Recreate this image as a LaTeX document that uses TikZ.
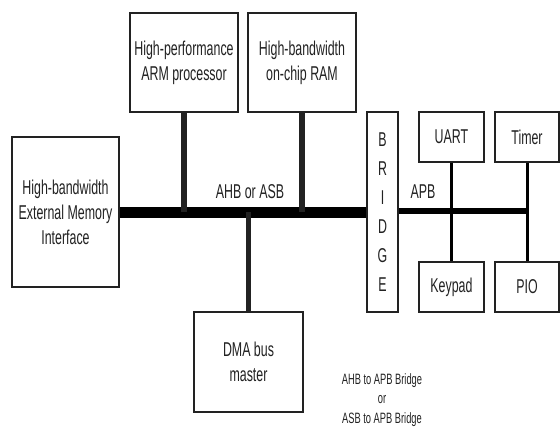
\documentclass[tikz,border=0pt]{standalone}
\usepackage{fontspec}
\setmainfont[FakeStretch=0.62]{Liberation Sans}
\definecolor{ink}{HTML}{222222}
\begin{document}
\begin{tikzpicture}[x=1pt,y=-1pt,
  blk/.style={draw=ink,line width=1.2pt,fill=white,inner sep=0pt,align=center,
    text=ink,font=\fontsize{20}{25}\selectfont},
  bigbus/.style={line width=11pt,draw=black},
  apbbus/.style={line width=6pt,draw=black},
  stubA/.style={line width=5.5pt,draw=ink},
  stubB/.style={line width=3pt,draw=black},
  lbl/.style={text=ink,font=\fontsize{20}{25}\selectfont,inner sep=0pt}]
\useasboundingbox (0,0) rectangle (560,438);
\coordinate (ahb) at (0,212.5);
\coordinate (apb) at (0,211);
\node[blk,minimum width=108pt,minimum height=99pt] (arm) at (184,62.5) {High-performance\\ARM processor};
\node[blk,minimum width=108pt,minimum height=99pt] (ram) at (302,62.5) {High-bandwidth\\on-chip RAM};
\node[blk,minimum width=107pt,minimum height=150pt] (mem) at (65.5,212) {High-bandwidth\\External Memory\\Interface};
\node[blk,minimum width=109pt,minimum height=100pt] (dma) at (248.5,362) {DMA bus\\master};
\node[blk,minimum width=31pt,minimum height=200pt,font=\fontsize{20}{29}\selectfont] (br) at (382.5,212) {B\\R\\I\\D\\G\\E};
\node[blk,minimum width=65pt,minimum height=50pt] (uart) at (451.5,137) {UART};
\node[blk,minimum width=64pt,minimum height=50pt] (timer) at (527,137) {Timer};
\node[blk,minimum width=65pt,minimum height=50pt] (keypad) at (451.5,287) {Keypad};
\node[blk,minimum width=64pt,minimum height=50pt] (pio) at (527,287) {PIO};
% AHB bus
\draw[bigbus] (mem.east |- ahb) -- (br.west |- ahb);
\draw[stubA] (arm.south) -- (arm.south |- ahb);
\draw[stubA] (ram.south) -- (ram.south |- ahb);
\draw[stubA] (dma.north) -- (dma.north |- ahb);
% APB bus
\draw[apbbus] (br.east |- apb) -- ([xshift=1.5pt]timer.south |- apb);
\draw[stubB] (uart.south) -- (keypad.north);
\draw[stubB] (timer.south) -- (pio.north);
% labels
\node[lbl] (lahb) at (250,192) {AHB or ASB};
\node[lbl] (lapb) at (423,192) {APB};
\node[text=ink,align=center,inner sep=0pt,font=\fontsize{15}{19.5}\selectfont] (cap) at (382,400) {AHB to APB Bridge\\or\\ASB to APB Bridge};
\end{tikzpicture}
\end{document}
